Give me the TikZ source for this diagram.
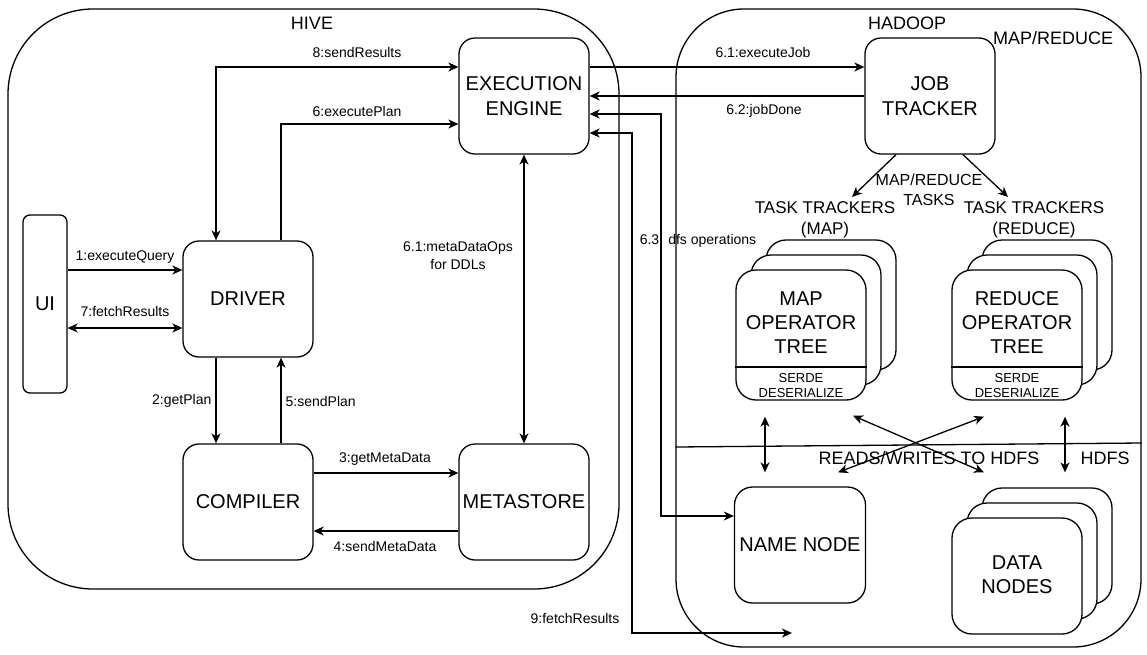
\documentclass[tikz,border=0pt]{standalone}
\usepackage{fontspec}
\setmainfont{Liberation Sans}
\usetikzlibrary{arrows.meta}

\begin{document}
\begin{tikzpicture}[x=1pt, y=-1pt, line width=1.3pt,
    container/.style={draw, rounded corners=#1},
    box/.style={draw, fill=white, rounded corners=16pt, align=center, inner sep=0pt,
      minimum width=130pt, minimum height=116pt, font=\fontsize{20}{24.5}\selectfont},
    stackbox/.style={draw, fill=white, rounded corners=20pt, inner sep=0pt,
      minimum width=130pt, minimum height=130pt},
    boxtext/.style={align=center, inner sep=0pt, font=\fontsize{20}{24}\selectfont},
    serde/.style={align=center, inner sep=0pt, font=\fontsize{13}{15}\selectfont},
    lbl/.style={align=center, inner sep=0pt, font=\fontsize{14}{18}\selectfont},
    biglbl/.style={align=center, inner sep=0pt, font=\fontsize{18}{21}\selectfont},
    arr/.style={-{Stealth[length=10pt, width=9pt, inset=3pt]}},
    darr/.style={{Stealth[length=10pt, width=9pt, inset=3pt]}-{Stealth[length=10pt, width=9pt, inset=3pt]}}]
  \useasboundingbox (0,0) rectangle (1147,654);

  % containers
  \node[container=85pt, minimum width=611pt, minimum height=580pt] (hive) at (313.5,299) {};
  \node[container=68pt, minimum width=465pt, minimum height=638pt] (hadoop) at (908.5,328) {};
  \draw (hadoop.west |- 0,447) -- (hadoop.east |- 0,443);
  \node[biglbl] (hivelbl) at (312,23) {HIVE};
  \node[biglbl] (hadooplbl) at (907,23) {HADOOP};
  \node[biglbl] (mrlbl) at (1053,38) {MAP/REDUCE};

  % hive side
  \node[box, minimum width=44pt, minimum height=178pt, rounded corners=7pt] (ui) at (45,304) {UI};
  \node[box] (driver) at (248,299) {DRIVER};
  \node[box] (compiler) at (248,502) {COMPILER};
  \node[box] (metastore) at (524,502) {METASTORE};
  \node[box] (engine) at (524,96) {EXECUTION\\ENGINE};

  % hadoop side
  \node[box] (jobtracker) at (930,96) {JOB\\TRACKER};
  \node[box, minimum width=131pt, rounded corners=18pt] (namenode) at (800,545) {NAME NODE};
  \foreach \o/\k in {30/C,15/B} {
    \node[stackbox] (map\k) at (801+\o,335-\o) {};
    \node[stackbox] (reduce\k) at (1017+\o,335-\o) {};
    \node[stackbox, minimum height=116pt] (data\k) at (1017+\o,576-\o) {};
  }
  \node[stackbox] (mapA) at (801,335) {};
  \node[stackbox] (reduceA) at (1017,335) {};
  \node[stackbox, minimum height=116pt] (dataA) at (1017,576) {};
  \draw (mapA.west |- 0,367) -- (mapA.east |- 0,367);
  \draw (reduceA.west |- 0,367) -- (reduceA.east |- 0,367);
  \node[boxtext] (maptext) at (801,323) {MAP\\OPERATOR\\TREE};
  \node[boxtext] (reducetext) at (1017,323) {REDUCE\\OPERATOR\\TREE};
  \node[serde] (mapserde) at (801,386) {SERDE\\DESERIALIZE};
  \node[serde] (reduceserde) at (1017,386) {SERDE\\DESERIALIZE};
  \node[boxtext] (datatext) at (1017,575) {DATA\\NODES};

  \node[biglbl, font=\fontsize{17}{21}\selectfont] (ttmap) at (825,220) {TASK TRACKERS\\(MAP)};
  \node[biglbl, font=\fontsize{17}{21}\selectfont] (ttreduce) at (1034,220) {TASK TRACKERS\\(REDUCE)};
  \node[biglbl, font=\fontsize{16}{20}\selectfont] (tasks) at (929,190) {MAP/REDUCE\\TASKS};
  \node[biglbl] (rwlbl) at (929,458) {READS/WRITES TO HDFS};
  \node[biglbl] (hdfslbl) at (1105,458) {HDFS};
  \coordinate (maptip) at (852,197);
  \coordinate (reducetip) at (1008,197);
  \coordinate (hdfsend) at (792,633);

  % connectors
  \draw[darr] ([xshift=-32pt]driver.north) |- (engine.west |- 0,67);
  \draw[arr] ([xshift=33pt]driver.north) |- (engine.west |- 0,124);
  \draw[arr] (ui.east |- 0,270) -- (driver.west |- 0,270);
  \draw[darr] (ui.east |- 0,328) -- (driver.west |- 0,328);
  \draw[arr] ([xshift=-32pt]driver.south) -- ([xshift=-32pt]compiler.north);
  \draw[arr] ([xshift=33pt]compiler.north) -- ([xshift=33pt]driver.south);
  \draw[arr] (compiler.east |- 0,473) -- (metastore.west |- 0,473);
  \draw[arr] (metastore.west |- 0,531) -- (compiler.east |- 0,531);
  \draw[darr] (engine.south) -- (metastore.north);
  \draw[arr] (engine.east |- 0,67) -- (jobtracker.west |- 0,67);
  \draw[arr] (jobtracker.west |- 0,96) -- (engine.east |- 0,96);
  \draw[darr] (engine.east |- 0,114) -- (661,114) |- (namenode.west |- 0,516);
  \draw[darr] (engine.east |- 0,133) -- (632,133) |- (hdfsend);
  \draw[arr] ([xshift=-34pt]jobtracker.south) -- (maptip);
  \draw[arr] ([xshift=33pt]jobtracker.south) -- (reducetip);
  \draw[darr] ([xshift=-36pt,yshift=-16pt]mapA.south) -- ([xshift=-35pt,yshift=14pt]namenode.north);
  \draw[darr] ([xshift=48pt,yshift=-16pt]reduceA.south) -- ([xshift=18pt,yshift=15pt]dataC.north);
  \draw[darr] ([xshift=52pt,yshift=-15pt]mapA.south) -- ([xshift=-63pt,yshift=15pt]dataC.north);
  \draw[darr] ([xshift=-33pt,yshift=-16pt]reduceA.south) -- ([xshift=38pt,yshift=14pt]namenode.north);

  % connector labels
  \node[lbl] (l8) at (357,52) {8:sendResults};
  \node[lbl] (l6) at (357,111) {6:executePlan};
  \node[lbl] (l1) at (125,257) {1:executeQuery};
  \node[lbl] (l7) at (125,311) {7:fetchResults};
  \node[lbl, anchor=east] (l2) at (212,401) {2:getPlan};
  \node[lbl, anchor=west] (l5) at (285,401) {5:sendPlan};
  \node[lbl] (l3) at (385,459) {3:getMetaData};
  \node[lbl] (l4) at (385,546) {4:sendMetaData};
  \node[lbl] (l61) at (458,256) {6.1:metaDataOps\\for DDLs};
  \node[lbl] (l61j) at (763,52) {6.1:executeJob};
  \node[lbl] (l62) at (764,111) {6.2:jobDone};
  \node[lbl] (l63) at (698,241) {6.3: dfs operations};
  \node[lbl] (l9) at (575,618) {9:fetchResults};
\end{tikzpicture}
\end{document}
